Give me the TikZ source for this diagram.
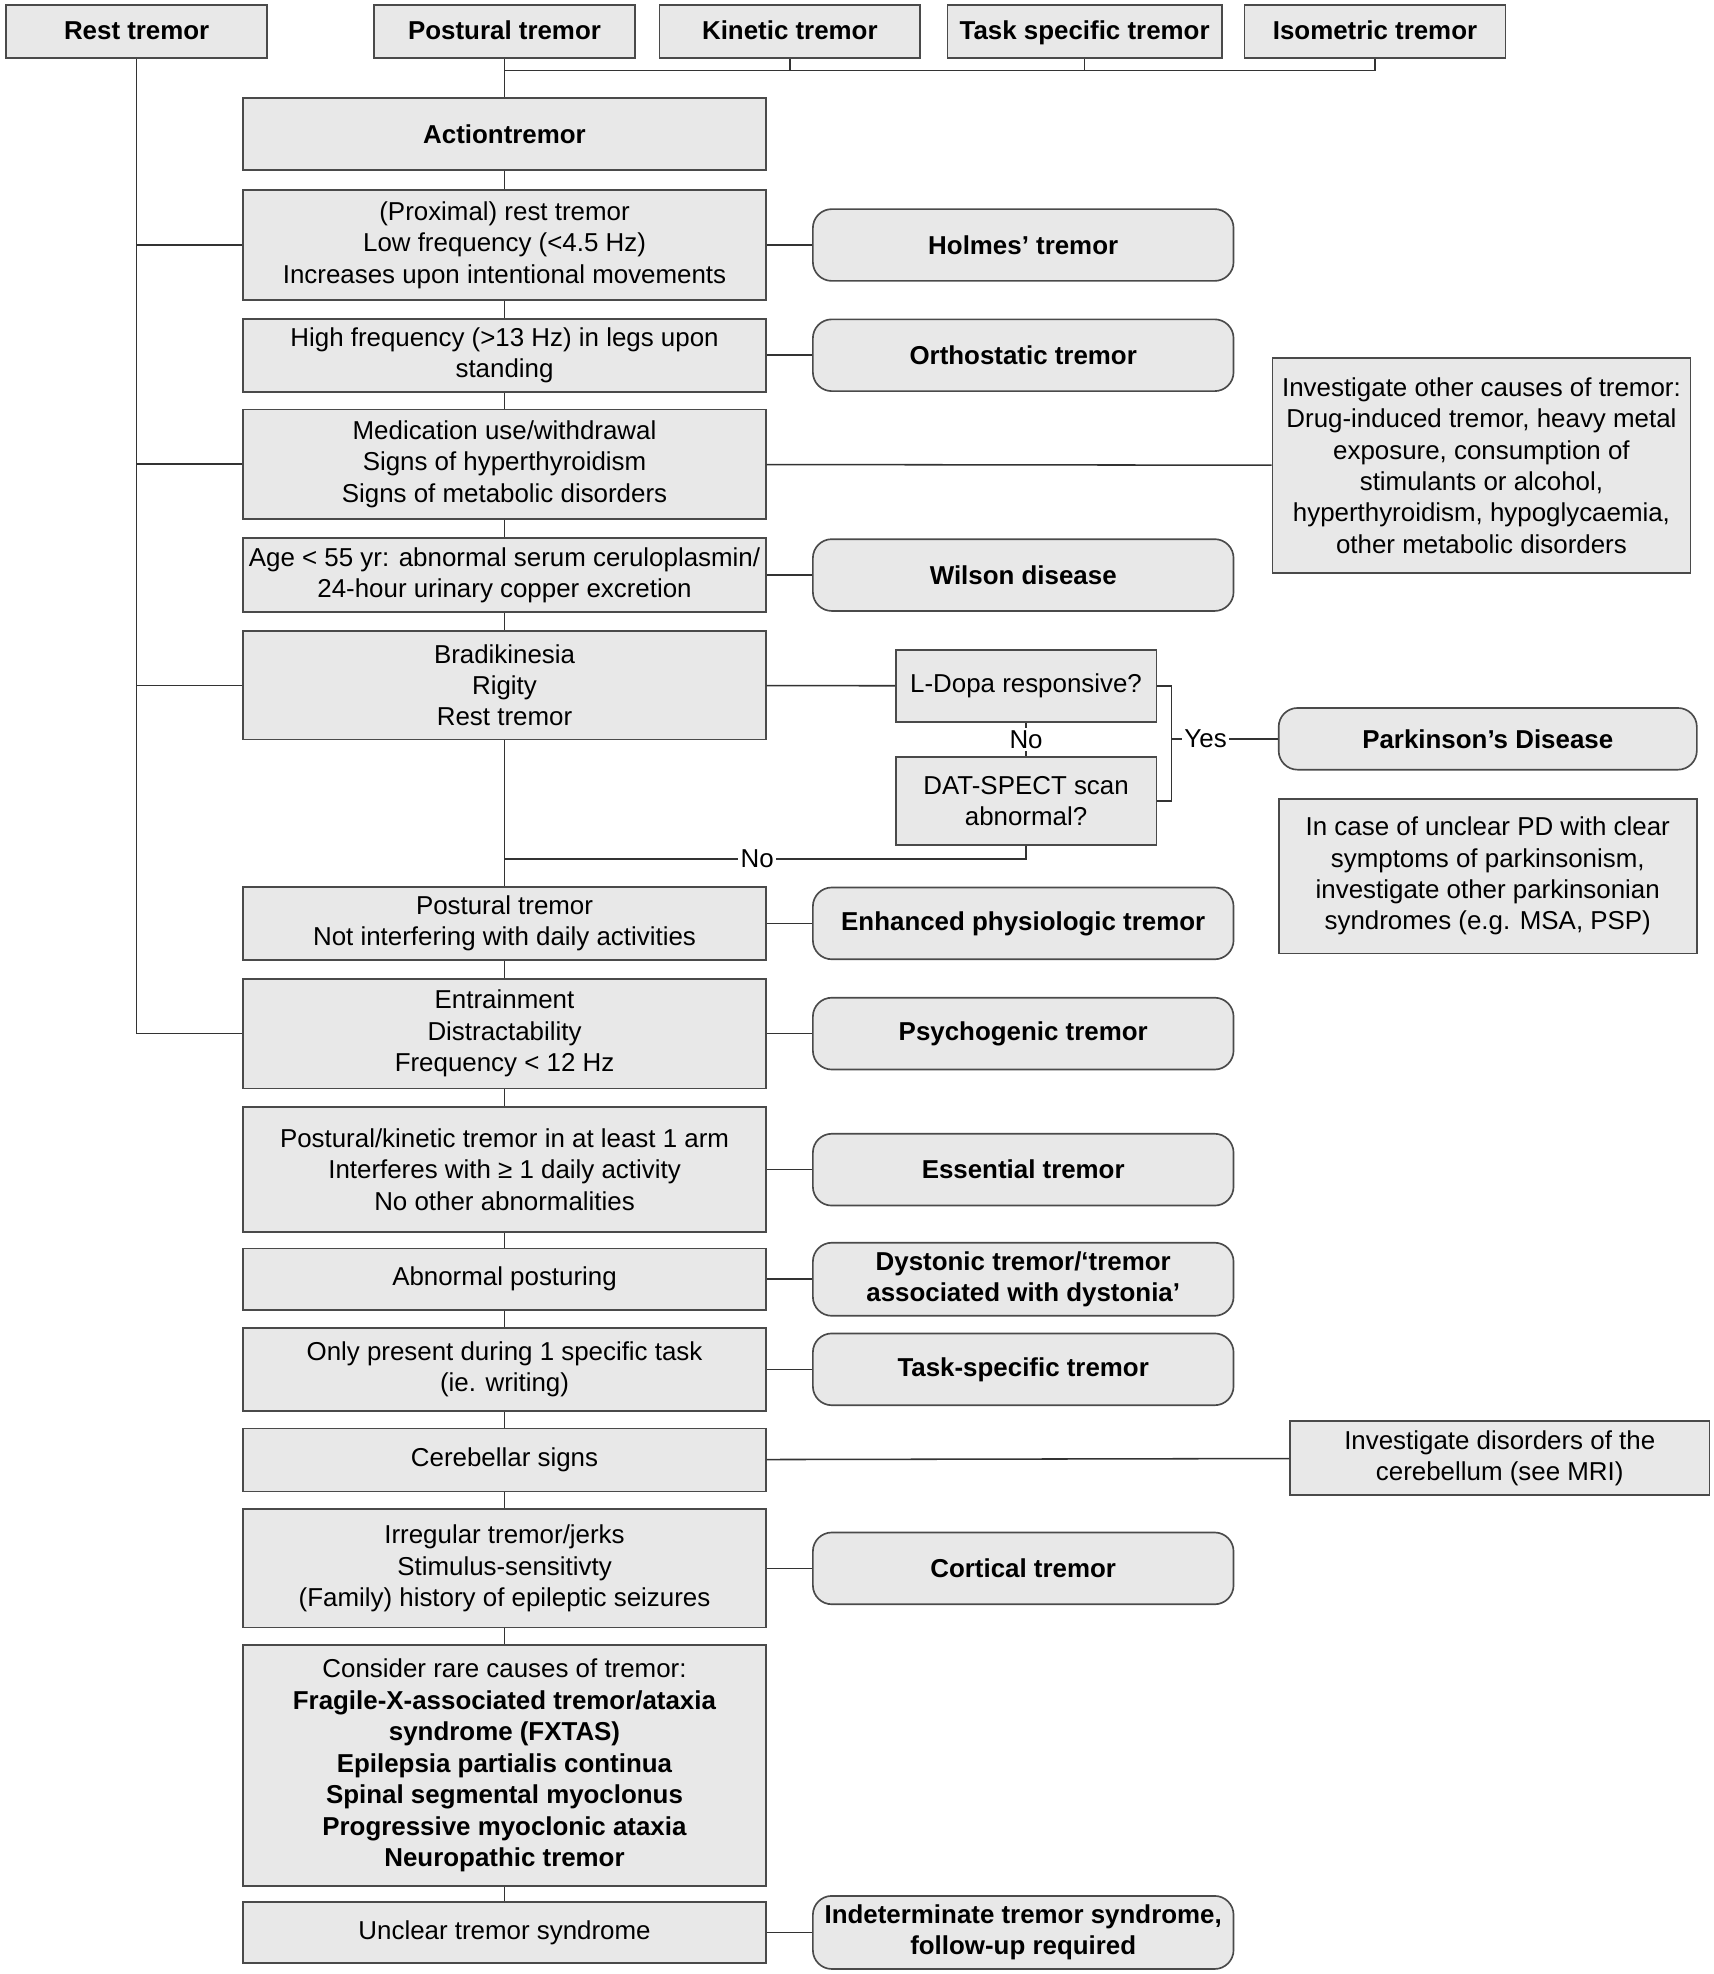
\documentclass[tikz,border=0pt]{standalone}
\usepackage{fontspec}
\setmainfont{Liberation Sans}
\usepackage{tikz}
\usetikzlibrary{positioning}
\usetikzlibrary{shapes}
\usetikzlibrary{calc}

\definecolor{boxfill}{HTML}{E8E8E8}
\definecolor{boxline}{HTML}{4A4A4A}
\definecolor{wire}{HTML}{333333}
\newcommand{\txt}{\fontsize{11.7}{14.2}\selectfont}

\begin{document}
\begin{tikzpicture}[x=0.02cm,y=-0.02cm,line width=0.7pt,
  box/.style={rectangle,draw=boxline,fill=boxfill,line width=0.75pt,align=center,inner sep=0pt,font=\txt},
  main node/.style={box,minimum width=8.3cm},
  top node/.style={box,minimum width=4.14cm,minimum height=0.84cm,text height=0.8em,text depth=0.1em,font=\txt\bfseries},
  result node/.style={box,rounded corners=0.3cm,minimum width=6.68cm,minimum height=1.14cm,font=\txt\bfseries},
  note node/.style={box,minimum width=6.64cm},
  lbl/.style={fill=white,inner sep=1pt,font=\txt}]
  \useasboundingbox (0,0) rectangle (1360,1567);

  % tremor types
  \node[top node] (rest) at (108.5,25) {Rest tremor};
  \node[top node] (post) at (400.5,25) {Postural tremor};
  \node[top node] (kin) at (627,25) {Kinetic tremor};
  \node[top node,minimum width=4.36cm] (task) at (861,25) {Task specific tremor};
  \node[top node] (iso) at (1091.5,25) {Isometric tremor};

  % main column
  \node[main node,minimum height=1.14cm,font=\txt\bfseries] (act) at (400.5,106.5) {Actiontremor};
  \node[main node,minimum height=1.74cm] (prox) at (400.5,194.5) {(Proximal) rest tremor\\Low frequency (<4.5 Hz)\\Increases upon intentional movements};
  \node[main node,minimum height=1.16cm] (high) at (400.5,282) {High frequency (>13 Hz) in legs upon\\standing};
  \node[main node,minimum height=1.74cm] (med) at (400.5,368.5) {Medication use/withdrawal\\Signs of hyperthyroidism\\Signs of metabolic disorders};
  \node[main node,minimum height=1.18cm] (age) at (400.5,456.5) {Age < 55 yr: abnormal serum ceruloplasmin/\\24-hour urinary copper excretion};
  \node[main node,minimum height=1.72cm] (brad) at (400.5,544) {Bradikinesia\\Rigity\\Rest tremor};
  \node[main node,minimum height=1.16cm] (pos) at (400.5,733) {Postural tremor\\Not interfering with daily activities};
  \node[main node,minimum height=1.74cm] (entr) at (400.5,820.5) {Entrainment\\Distractability\\Frequency < 12 Hz};
  \node[main node,minimum height=1.98cm] (ess) at (400.5,928.5) {Postural/kinetic tremor in at least 1 arm\\Interferes with ≥ 1 daily activity\\No other abnormalities};
  \node[main node,minimum height=0.98cm] (abn) at (400.5,1015.5) {Abnormal posturing};
  \node[main node,minimum height=1.32cm] (only) at (400.5,1087) {Only present during 1 specific task\\(ie. writing)};
  \node[main node,minimum height=1.0cm] (cer) at (400.5,1159) {Cerebellar signs};
  \node[main node,minimum height=1.88cm] (irr) at (400.5,1245) {Irregular tremor/jerks\\Stimulus-sensitivty\\(Family) history of epileptic seizures};
  \node[main node,minimum height=3.82cm] (rare) at (400.5,1401.5) {Consider rare causes of tremor:\\\textbf{Fragile-X-associated tremor/ataxia}\\\textbf{syndrome (FXTAS)}\\\textbf{Epilepsia partialis continua}\\\textbf{Spinal segmental myoclonus}\\\textbf{Progressive myoclonic ataxia}\\\textbf{Neuropathic tremor}};
  \node[main node,minimum height=0.96cm] (uncl) at (400.5,1534) {Unclear tremor syndrome};

  % diagnoses
  \node[result node] (holmes) [right=0.72cm of prox] {Holmes’ tremor};
  \node[result node] (ortho) [right=0.72cm of high] {Orthostatic tremor};
  \node[result node] (wilson) [right=0.72cm of age] {Wilson disease};
  \node[result node] (enh) [right=0.72cm of pos] {Enhanced physiologic tremor};
  \node[result node] (psy) [right=0.72cm of entr] {Psychogenic tremor};
  \node[result node] (esst) [right=0.72cm of ess] {Essential tremor};
  \node[result node,minimum height=1.16cm] (dys) [right=0.72cm of abn] {Dystonic tremor/‘tremor\\associated with dystonia’};
  \node[result node] (tsk) [right=0.72cm of only] {Task-specific tremor};
  \node[result node] (cort) [right=0.72cm of irr] {Cortical tremor};
  \node[result node,minimum height=1.16cm] (indet) [right=0.72cm of uncl] {Indeterminate tremor syndrome,\\follow-up required};

  % parkinson branch
  \node[box,minimum width=4.14cm,minimum height=1.14cm] (ldopa) at (814.5,544.5) {L-Dopa responsive?};
  \node[box,minimum width=4.14cm,minimum height=1.4cm] (dat) at (814.5,636) {DAT-SPECT scan\\abnormal?};
  \node[result node,minimum width=6.64cm,minimum height=0.98cm] (park) at (1181,586.5) {Parkinson’s Disease};
  \node[note node,minimum height=2.46cm] (unclpd) at (1181,695.5) {In case of unclear PD with clear\\symptoms of parkinsonism,\\investigate other parkinsonian\\syndromes (e.g. MSA, PSP)};

  % other notes
  \node[note node,minimum height=3.42cm] (other) at (1176,369.5) {Investigate other causes of tremor:\\Drug-induced tremor, heavy metal\\exposure, consumption of\\stimulants or alcohol,\\hyperthyroidism, hypoglycaemia,\\other metabolic disorders};
  \node[note node,minimum width=6.66cm,minimum height=1.18cm] (cbl) at (1190.5,1157.5) {Investigate disorders of the\\cerebellum (see MRI)};

  \coordinate (bus) at (400.5,56);
  \coordinate (yes) at (930,586.5);
  \coordinate (nojoin) at (400.5,682);

  \begin{scope}[draw=wire]
    % top bus
    \draw (post.south) -- (act.north);
    \draw (bus) -| (iso.south);
    \draw (kin.south) -- (kin.south |- bus);
    \draw (task.south) -- (task.south |- bus);
    % rest tremor line
    \draw (rest.south) |- (entr.west);
    \foreach \a in {prox,med,brad}
      \draw (\a.west) -- (\a.west -| rest.south);
    % main column
    \foreach \a/\b in {act/prox,prox/high,high/med,med/age,age/brad,brad/pos,pos/entr,entr/ess,ess/abn,abn/only,only/cer,cer/irr,irr/rare,rare/uncl}
      \draw (\a) -- (\b);
    % to diagnoses
    \foreach \a/\b in {prox/holmes,high/ortho,age/wilson,pos/enh,entr/psy,ess/esst,abn/dys,only/tsk,irr/cort,uncl/indet,med/other,cer/cbl,brad/ldopa}
      \draw (\a) -- (\b);
    % parkinson
    \draw (ldopa) -- (dat) node[midway,lbl] {No};
    \draw (ldopa.east) -| (yes) |- (dat.east);
    \draw (yes) -- (park) node[pos=0.32,lbl] {Yes};
    \draw (dat.south) |- (nojoin);
    \node[lbl] (nolbl) at (601,682) {No};
  \end{scope}
\end{tikzpicture}
\end{document}
